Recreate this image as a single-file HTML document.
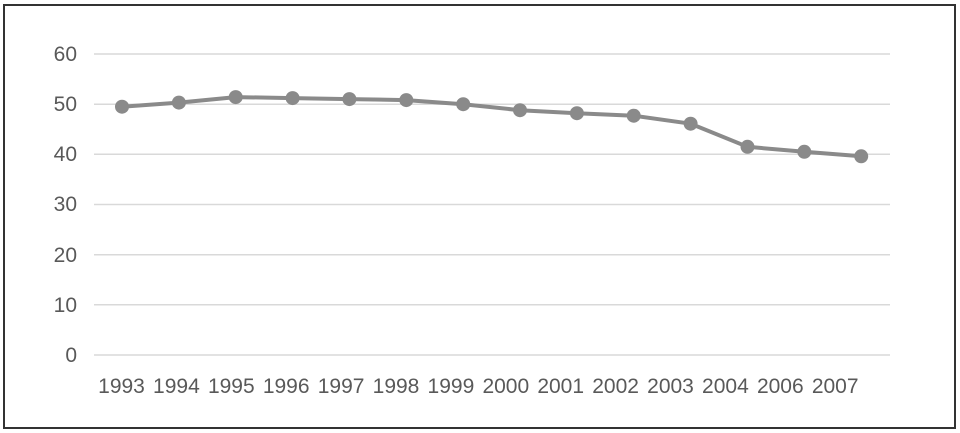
<!DOCTYPE html>
<html><head><style>
html,body{margin:0;padding:0;background:#fff;}
svg{display:block;}
text{font-family:"Liberation Sans",sans-serif;fill:#595959;font-size:21px;}
</style></head><body>
<svg width="960" height="433" viewBox="0 0 960 433">
<rect x="4" y="5" width="951" height="423" fill="#fff" stroke="#333" stroke-width="2"/>
<g stroke="#d9d9d9" stroke-width="1.5">
<line x1="94" x2="890" y1="54" y2="54"/>
<line x1="94" x2="890" y1="104.2" y2="104.2"/>
<line x1="94" x2="890" y1="154.3" y2="154.3"/>
<line x1="94" x2="890" y1="204.5" y2="204.5"/>
<line x1="94" x2="890" y1="254.7" y2="254.7"/>
<line x1="94" x2="890" y1="304.8" y2="304.8"/>
<line x1="94" x2="890" y1="355" y2="355"/>
</g>
<g text-anchor="end">
<text x="77" y="61">60</text>
<text x="77" y="111">50</text>
<text x="77" y="161">40</text>
<text x="77" y="211">30</text>
<text x="77" y="262">20</text>
<text x="77" y="312">10</text>
<text x="77" y="362">0</text>
</g>
<g text-anchor="middle">
<text x="121.5" y="393">1993</text><text x="176.4" y="393">1994</text><text x="231.3" y="393">1995</text><text x="286.2" y="393">1996</text><text x="341.1" y="393">1997</text><text x="396" y="393">1998</text><text x="450.9" y="393">1999</text><text x="505.8" y="393">2000</text><text x="560.7" y="393">2001</text><text x="615.6" y="393">2002</text><text x="670.5" y="393">2003</text><text x="725.4" y="393">2004</text><text x="780.3" y="393">2006</text><text x="835.2" y="393">2007</text>
</g>
<polyline fill="none" stroke="#8a8a8a" stroke-width="4" stroke-linejoin="round"
points="122,106.7 178.9,102.6 235.7,97.1 292.6,98.1 349.4,99.1 406.3,100.1 463.2,104.2 520,110.2 576.9,113.2 633.7,115.7 690.6,123.7 747.5,146.8 804.3,151.8 861.2,156.3"/>
<g fill="#8a8a8a">
<circle cx="122" cy="106.7" r="7"/><circle cx="178.9" cy="102.6" r="7"/><circle cx="235.7" cy="97.1" r="7"/><circle cx="292.6" cy="98.1" r="7"/><circle cx="349.4" cy="99.1" r="7"/><circle cx="406.3" cy="100.1" r="7"/><circle cx="463.2" cy="104.2" r="7"/><circle cx="520" cy="110.2" r="7"/><circle cx="576.9" cy="113.2" r="7"/><circle cx="633.7" cy="115.7" r="7"/><circle cx="690.6" cy="123.7" r="7"/><circle cx="747.5" cy="146.8" r="7"/><circle cx="804.3" cy="151.8" r="7"/><circle cx="861.2" cy="156.3" r="7"/>
</g>
</svg>
</body></html>
